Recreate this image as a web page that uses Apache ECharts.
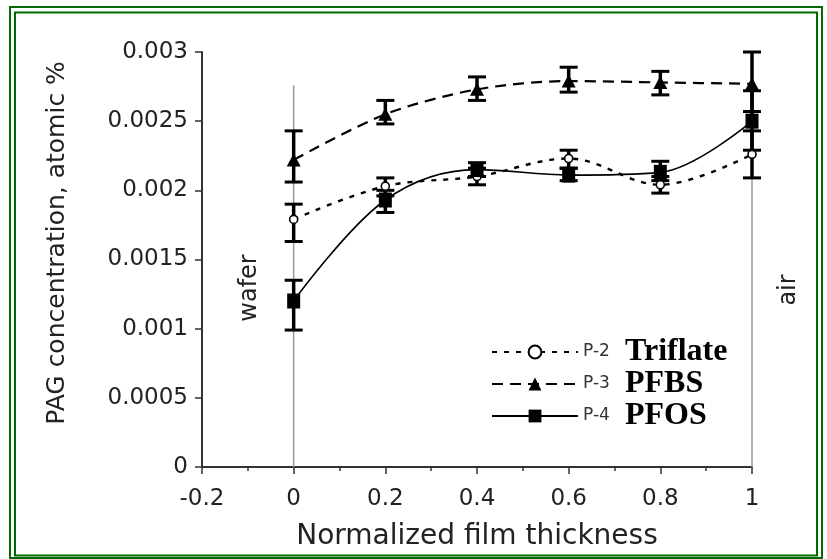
<!DOCTYPE html>
<html>
<head>
<meta charset="utf-8">
<script src="https://cdn.jsdelivr.net/npm/echarts@6/dist/echarts.min.js"></script>
<style>
html,body{margin:0;padding:0;background:#fff;}
#c{width:827px;height:559px;}
</style>
</head>
<body>
<div id="c"></div>
<script>
// ---- data ----
var xPos = [0, 0.2, 0.4, 0.6, 0.8, 1.0];
var xTicks = ['-0.2', '0', '0.2', '0.4', '0.6', '0.8', '1'];
var yTicks = ['0', '0.0005', '0.001', '0.0015', '0.002', '0.0025', '0.003'];

var triflate   = [0.00179, 0.00203, 0.00210, 0.00223, 0.00204, 0.00226];
var triflateLo = [0.00163, 0.00196, 0.00204, 0.00216, 0.00198, 0.00209];
var triflateHi = [0.00190, 0.00209, 0.00216, 0.00229, 0.00210, 0.00243];

var pfbs   = [0.00222, 0.00255, 0.00273, 0.00279, 0.00278, 0.00277];
var pfbsLo = [0.00206, 0.00248, 0.00265, 0.00271, 0.00269, 0.00257];
var pfbsHi = [0.00243, 0.00265, 0.00282, 0.00289, 0.00286, 0.00300];

var pfos   = [0.00120, 0.00193, 0.00215, 0.00211, 0.00213, 0.00250];
var pfosLo = [0.00099, 0.00184, 0.00210, 0.00207, 0.00207, 0.00229];
var pfosHi = [0.00135, 0.00200, 0.00220, 0.00216, 0.00221, 0.00272];

var boundaryX = [0, 1];
var boundaryTop = 0.00276;

var names = ['P-2', 'P-3', 'P-4'];
var labels = {'P-2': 'Triflate', 'P-3': 'PFBS', 'P-4': 'PFOS'};

// ---- build ----
function pts(vals) { return xPos.map(function (x, i) { return [x, vals[i]]; }); }
function errData(lo, hi) { return xPos.map(function (x, i) { return [x, lo[i], hi[i]]; }); }

function errRender(params, api) {
  var x = api.value(0);
  var lo = api.coord([x, api.value(1)]);
  var hi = api.coord([x, api.value(2)]);
  var hw = 9;
  var st = {stroke: '#000', lineWidth: 3};
  return {
    type: 'group',
    children: [
      {type: 'line', shape: {x1: lo[0], y1: lo[1], x2: hi[0], y2: hi[1]}, style: {stroke: '#000', lineWidth: 3.5}},
      {type: 'line', shape: {x1: lo[0] - hw, y1: lo[1], x2: lo[0] + hw, y2: lo[1]}, style: st},
      {type: 'line', shape: {x1: hi[0] - hw, y1: hi[1], x2: hi[0] + hw, y2: hi[1]}, style: st}
    ]
  };
}

var chart = echarts.init(document.getElementById('c'));

var series = [];
boundaryX.forEach(function (bx) {
  series.push({
    type: 'line', data: [[bx, 0], [bx, boundaryTop]], symbol: 'none', silent: true,
    lineStyle: {color: '#9a9a9a', width: 1.5}, z: 1
  });
});
series.push({type: 'custom', renderItem: errRender, data: errData(pfbsLo, pfbsHi), z: 3, silent: true});
series.push({type: 'custom', renderItem: errRender, data: errData(triflateLo, triflateHi), z: 3, silent: true});
series.push({type: 'custom', renderItem: errRender, data: errData(pfosLo, pfosHi), z: 3, silent: true});

series.push({
  name: 'P-2', type: 'line', data: pts(triflate), smooth: 0.35,
  symbol: 'circle', symbolSize: 8,
  itemStyle: {color: '#fff', borderColor: '#000', borderWidth: 1.6},
  lineStyle: {color: '#000', width: 2.4, type: [5, 7]}, z: 4
});
series.push({
  name: 'P-3', type: 'line', data: pts(pfbs), smooth: 0.3,
  symbol: 'triangle', symbolSize: [14, 13],
  itemStyle: {color: '#000'},
  lineStyle: {color: '#000', width: 2.2, type: [11, 7]}, z: 4
});
series.push({
  name: 'P-4', type: 'line', data: pts(pfos), smooth: 0.35,
  symbol: 'rect', symbolSize: [13, 15],
  itemStyle: {color: '#000'},
  lineStyle: {color: '#000', width: 1.6, type: 'solid'}, z: 4
});

var option = {
  backgroundColor: '#ffffff',
  animation: false,
  grid: {left: 202, top: 52, width: 550, height: 415},
  xAxis: {
    type: 'value', min: -0.2, max: 1.0, interval: 0.2,
    name: 'Normalized film thickness', nameLocation: 'middle', nameGap: 56,
    nameTextStyle: {fontFamily: 'DejaVu Sans', fontSize: 28, color: '#222'},
    axisLine: {onZero: false, lineStyle: {color: '#333', width: 2}},
    axisTick: {show: true, inside: false, length: 7, lineStyle: {color: '#333', width: 1.5}},
    minorTick: {show: true, splitNumber: 2, length: 4, lineStyle: {color: '#333', width: 1.5}},
    splitLine: {show: false},
    axisLabel: {
      margin: 21, fontFamily: 'DejaVu Sans', fontSize: 23, color: '#222',
      formatter: function (v) { var i = Math.round((v + 0.2) / 0.2); return xTicks[i]; }
    }
  },
  yAxis: {
    type: 'value', min: 0, max: 0.003, interval: 0.0005,
    axisLine: {show: true, onZero: false, lineStyle: {color: '#333', width: 2}},
    axisTick: {show: true, inside: false, length: 7, lineStyle: {color: '#333', width: 1.5}},
    splitLine: {show: false},
    axisLabel: {
      margin: 14, fontFamily: 'DejaVu Sans', fontSize: 23, color: '#222',
      formatter: function (v) { var i = Math.round(v / 0.0005); return yTicks[i]; }
    }
  },
  legend: {
    orient: 'vertical', left: 486, top: 331,
    itemWidth: 86, itemHeight: 16, itemGap: 0,
    data: names,
    formatter: function (n) { return '{s|' + n + '}{b|' + labels[n] + '}'; },
    textStyle: {
      rich: {
        s: {fontFamily: 'DejaVu Sans', fontSize: 17, color: '#333', width: 42, verticalAlign: 'middle'},
        b: {fontFamily: 'Liberation Serif', fontSize: 32, fontWeight: 'bold', color: '#000'}
      }
    }
  },
  graphic: [
    {type: 'rect', shape: {x: 10, y: 7, width: 812, height: 551}, style: {fill: 'none', stroke: '#006a00', lineWidth: 2}, silent: true},
    {type: 'rect', shape: {x: 15, y: 12.5, width: 802, height: 543}, style: {fill: 'none', stroke: '#006a00', lineWidth: 2}, silent: true},
    {type: 'text', x: 57, y: 243, rotation: Math.PI / 2,
     style: {text: 'PAG concentration, atomic %', fontFamily: 'DejaVu Sans', fontSize: 25, fill: '#222', align: 'center', verticalAlign: 'middle'}},
    {type: 'text', x: 250, y: 288, rotation: Math.PI / 2,
     style: {text: 'wafer', fontFamily: 'DejaVu Sans', fontSize: 24, fill: '#222', align: 'center', verticalAlign: 'middle'}},
    {type: 'text', x: 789, y: 290, rotation: Math.PI / 2,
     style: {text: 'air', fontFamily: 'DejaVu Sans', fontSize: 24, fill: '#222', align: 'center', verticalAlign: 'middle'}}
  ],
  series: series
};
chart.setOption(option);
</script>
</body>
</html>
